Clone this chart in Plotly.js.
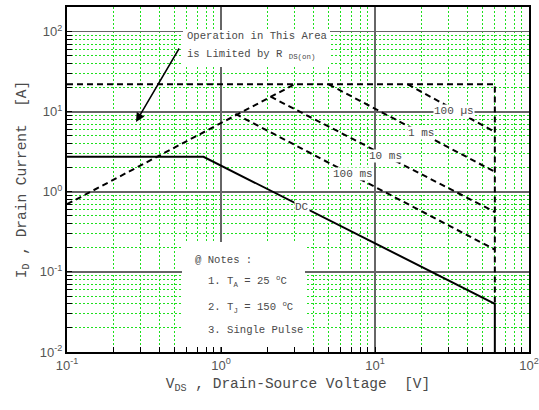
<!DOCTYPE html>
<html>
<head>
<meta charset="utf-8">
<script src="https://cdn.plot.ly/plotly-3.0.1.min.js"></script>
<style>html,body{margin:0;padding:0;background:#fff;}#chart{width:539px;height:410px;}</style>
</head>
<body>
<div id="chart"></div>
<script>
// ---- data ----
const rdsV = [0.1, 3.0];
const rdsI = [0.7, 22];
const limV = [0.1, 60, 60];
const limI = [22, 22, 0.04];
const us100V = [16.3, 60];
const us100I = [22, 5.6];
const ms1V = [5.0, 60];
const ms1I = [22, 1.78];
const ms10V = [2.1, 60];
const ms10I = [15.4, 0.56];
const ms100V = [1.24, 60];
const ms100I = [9.4, 0.19];
const dcV = [0.1, 0.77, 60, 60];
const dcI = [2.74, 2.74, 0.04, 0.01];
const curveLabels = ['100 \u00b5s', '1 ms', '10 ms', '100 ms', 'DC'];
const xTickVals = [0.1, 1, 10, 100];
const xTickText = ['10<sup>-1</sup>', '10<sup>0</sup>', '10<sup>1</sup>', '10<sup>2</sup>'];
const yTickVals = [0.01, 0.1, 1, 10, 100];
const yTickText = ['10<sup>-2</sup>', '10<sup>-1</sup>', '10<sup>0</sup>', '10<sup>1</sup>', '10<sup>2</sup>'];
const noteLines = ['@ Notes :', '1. T<sub>A</sub> = 25 <sup>o</sup>C', '2. T<sub>J</sub> = 150 <sup>o</sup>C', '3. Single Pulse'];

// minor grid positions (2..9 within each decade)
function minors(lo, hi) {
  const out = [];
  for (let e = lo; e < hi; e++) for (let m = 2; m <= 9; m++) out.push(m * Math.pow(10, e));
  return out;
}

const mono = 'Liberation Mono, Courier New, monospace';
const sans = 'Liberation Sans, Arial, sans-serif';
const txtCol = '#4a4a4a';
const dashPat = '6px,4px';

function ln(x, y, dash) {
  return {x: x, y: y, type: 'scatter', mode: 'lines', hoverinfo: 'skip',
    line: {color: '#000', width: 2, dash: dash}, showlegend: false};
}
const traces = [
  ln(rdsV, rdsI, dashPat),
  ln(limV, limI, dashPat),
  ln(us100V, us100I, dashPat),
  ln(ms1V, ms1I, dashPat),
  ln(ms10V, ms10I, dashPat),
  ln(ms100V, ms100I, dashPat),
  ln(dcV, dcI, 'solid')
];

// pixel -> paper helpers (plot area 67..529 x 7..352)
const px = v => (v - 67) / 462;
const py = v => (352 - v) / 345;

const lblPos = [[454, 111], [421, 133], [385, 156], [353, 174], [302, 207]];
const annotations = [];
curveLabels.forEach((t, i) => annotations.push({
  xref: 'paper', yref: 'paper', x: px(lblPos[i][0]), y: py(lblPos[i][1]),
  xanchor: 'center', yanchor: 'middle', text: t, showarrow: false,
  bgcolor: '#fff', borderpad: 0, font: {family: mono, size: 11, color: txtCol}
}));
annotations.push({xref: 'paper', yref: 'paper', x: px(185), y: py(36), xanchor: 'left', yanchor: 'middle',
  text: 'Operation in This Area', showarrow: false, font: {family: mono, size: 10.6, color: txtCol}});
annotations.push({xref: 'paper', yref: 'paper', x: px(185), y: py(55), xanchor: 'left', yanchor: 'middle',
  text: 'is Limited by R <sub>DS(on)</sub>', showarrow: false, font: {family: mono, size: 10.6, color: txtCol}});
annotations.push({xref: 'paper', yref: 'paper', x: px(136), y: py(122), text: '', showarrow: true,
  ax: 44, ay: -75, arrowhead: 2, arrowsize: 1.2, arrowwidth: 1.5, arrowcolor: '#000', standoff: 0});
const noteY = [260, 281, 307, 330];
const noteX = [193, 206, 206, 206];
noteLines.forEach((t, i) => annotations.push({
  xref: 'paper', yref: 'paper', x: px(noteX[i]), y: py(noteY[i]), xanchor: 'left', yanchor: 'middle',
  text: t, showarrow: false, font: {family: mono, size: 10.6, color: txtCol}
}));

const shapes = [
  {type: 'rect', xref: 'paper', yref: 'paper', x0: px(183), x1: px(330), y0: py(67), y1: py(30),
    fillcolor: '#fff', line: {width: 0}, layer: 'above'},
  {type: 'rect', xref: 'paper', yref: 'paper', x0: px(182), x1: px(305), y0: py(347), y1: py(242),
    fillcolor: '#fff', line: {width: 0}, layer: 'above'}
];

const axisCommon = {
  type: 'log', showline: true, mirror: true, linecolor: '#000', linewidth: 2,
  showgrid: true, gridcolor: '#666', gridwidth: 1.5, zeroline: false,
  ticks: 'inside', ticklen: 5, tickcolor: '#000', tickwidth: 1,
  tickfont: {family: sans, size: 13, color: '#555'}, tickmode: 'array'
};

const layout = {
  width: 539, height: 410,
  margin: {l: 67, r: 10, t: 7, b: 58},
  paper_bgcolor: '#fff', plot_bgcolor: '#fff',
  showlegend: false,
  xaxis: Object.assign({}, axisCommon, {
    range: [-1, 2], tickvals: xTickVals, ticktext: xTickText,
    minor: {tickmode: 'array', tickvals: minors(-1, 2), ticks: 'inside', ticklen: 5, tickcolor: '#000',
      showgrid: true, gridcolor: '#1ee01e', griddash: '2px,2px', gridwidth: 1},
    title: {text: 'V<sub>DS</sub> , Drain-Source Voltage \u00a0[V]', font: {family: mono, size: 14.5, color: txtCol}, standoff: 6}
  }),
  yaxis: Object.assign({}, axisCommon, {
    range: [-2, 2.308], tickvals: yTickVals, ticktext: yTickText,
    minor: {tickmode: 'array', tickvals: minors(-2, 3), ticks: 'inside', ticklen: 5, tickcolor: '#000',
      showgrid: true, gridcolor: '#1ee01e', griddash: '2px,2px', gridwidth: 1},
    title: {text: 'I<sub>D</sub> , Drain Current \u00a0[A]', font: {family: mono, size: 14.5, color: txtCol}, standoff: 10}
  }),
  annotations: annotations,
  shapes: shapes
};

Plotly.newPlot('chart', traces, layout, {staticPlot: true, displayModeBar: false});
</script>
</body>
</html>
